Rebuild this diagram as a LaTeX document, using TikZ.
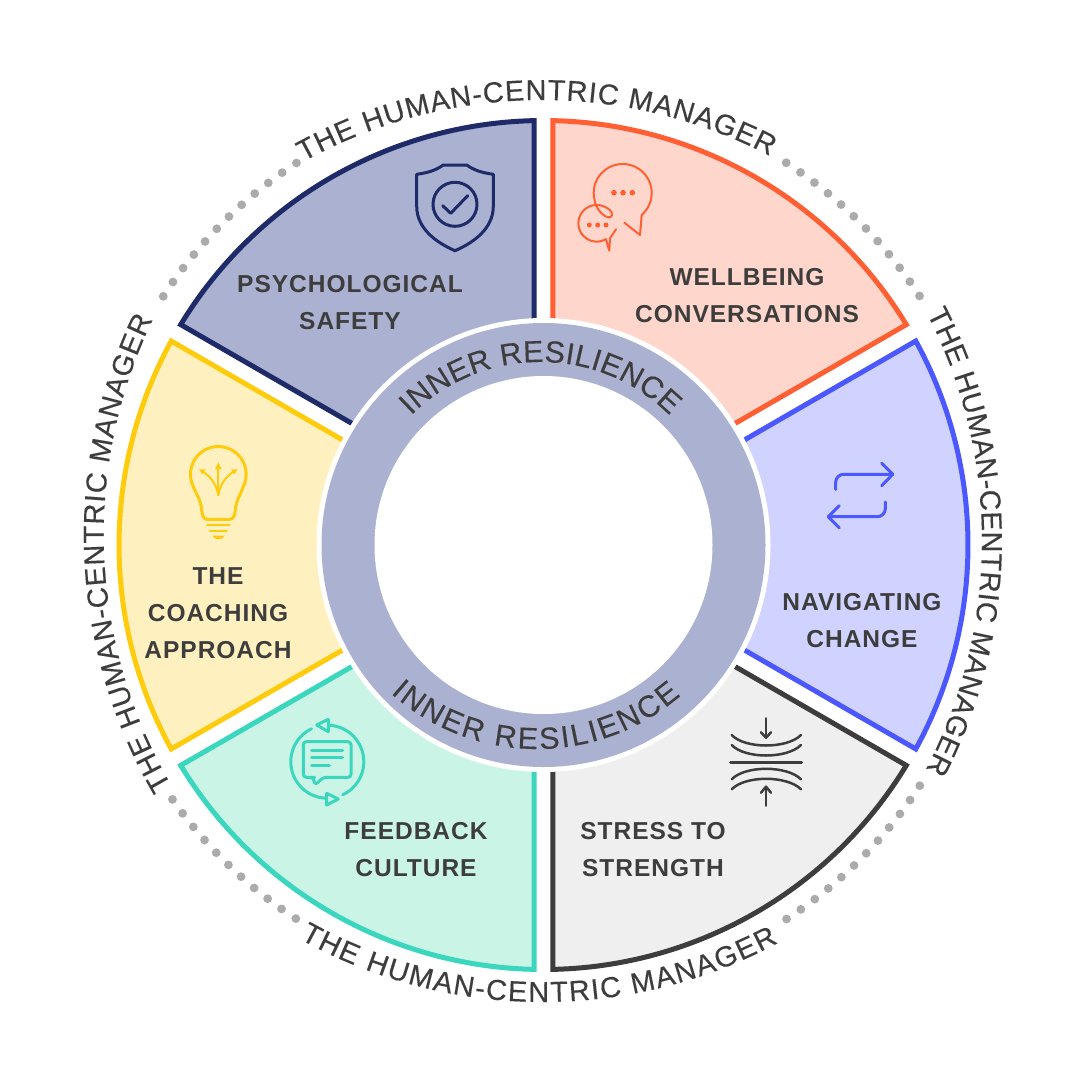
\documentclass[tikz,border=0pt]{standalone}
\usepackage{fontspec}
\setmainfont{Liberation Sans}
\newfontfamily\labelfont[LetterSpace=4]{Liberation Sans}
\newfontfamily\curvefamily[FakeBold=0.25]{Liberation Sans}
\usetikzlibrary{decorations.text}
\definecolor{ink}{HTML}{3D3D3D}
\definecolor{navy}{HTML}{1F2A68}
\definecolor{navyfill}{HTML}{AAB1D1}
\definecolor{orangeline}{HTML}{FF5F33}
\definecolor{orangefill}{HTML}{FFD6CB}
\definecolor{blueline}{HTML}{4B57FF}
\definecolor{bluefill}{HTML}{D0D3FF}
\definecolor{greyfill}{HTML}{EFEFEF}
\definecolor{tealline}{HTML}{3AD6BE}
\definecolor{tealfill}{HTML}{CAF5E6}
\definecolor{yellowline}{HTML}{FFCB0D}
\definecolor{yellowfill}{HTML}{FFF1BF}
\definecolor{dotgrey}{HTML}{ABABAB}
\newcommand\curvedfont{\curvefamily\color{ink}\fontsize{29}{29}\selectfont}
\newcommand\innerfont{\curvefamily\color{ink}\fontsize{30.5}{30.5}\selectfont}
\newcommand\drawsector[3]{%
  \path[sectorbox={#2}{#3}] (#1:19bp) -- ({#1+28.72}:424.5bp)
    arc[start angle={#1+28.72},end angle={#1-28.72},radius=424.5bp] -- cycle;}
\tikzset{
  sectorbox/.style 2 args={draw=#1,fill=#2,line width=5bp,line join=miter,miter limit=3},
  sectorlabel/.style={text=ink,align=center,font=\labelfont\bfseries\fontsize{24.6}{37.1}\selectfont,inner sep=0pt},
  icon/.style={line width=#1,line cap=round,line join=round},
  icon/.default=3bp
}
\begin{document}
\begin{tikzpicture}[x=1bp,y=-1bp]
\useasboundingbox (0,0) rectangle (1080,1080);
\fill[white] (0,0) rectangle (1080,1080);

% sectors and central ring
\begin{scope}[shift={(543.5,545)},y=1bp]
  \drawsector{120}{navy}{navyfill}
  \drawsector{60}{orangeline}{orangefill}
  \drawsector{0}{blueline}{bluefill}
  \drawsector{-60}{ink}{greyfill}
  \drawsector{-120}{tealline}{tealfill}
  \drawsector{180}{yellowline}{yellowfill}
  \fill[white] (0,0) circle[radius=227bp];
  \fill[navyfill] (0,0) circle[radius=222bp];
  \fill[white] (0,0) circle[radius=169bp];
\end{scope}

% dotted outer circle
\begin{scope}[shift={(541.5,541)},y=1bp]
  \foreach \a in {0,...,11}{
    \fill[dotgrey] ({147.1-\a*2.195}:450.5bp) circle[radius=4.4bp];
    \fill[dotgrey] ({57.1-\a*2.195}:450.5bp) circle[radius=4.4bp];
    \fill[dotgrey] ({-32.9-\a*2.195}:450.5bp) circle[radius=4.4bp];
  }
  \foreach \a in {0,...,10}{
    \fill[dotgrey] ({215+\a*2.195}:450.5bp) circle[radius=4.4bp];
  }
\end{scope}

% curved outer text
\begin{scope}[shift={(542,592)},y=1bp]
  \path[decorate,decoration={text along path,text align={fit to path},text={|\curvedfont|THE HUMAN-CENTRIC MANAGER}}]
    (119:492bp) arc[start angle=119,end angle=62.4,radius=492bp];
\end{scope}
\begin{scope}[shift={(542.5,503)},y=1bp]
  \path[decorate,decoration={text along path,text align={fit to path},text={|\curvedfont|THE HUMAN-CENTRIC MANAGER}}]
    (240.9:499bp) arc[start angle=240.9,end angle=298.2,radius=499bp];
\end{scope}
\begin{scope}[shift={(600.7,535)},y=1bp]
  \path[decorate,decoration={text along path,text align={fit to path},text={|\curvedfont|THE HUMAN-CENTRIC MANAGER}}]
    (210.3:497bp) arc[start angle=210.3,end angle=154.3,radius=497bp];
\end{scope}
\begin{scope}[shift={(487,540.5)},y=1bp]
  \path[decorate,decoration={text along path,text align={fit to path},text={|\curvedfont|THE HUMAN-CENTRIC MANAGER}}]
    (27.3:495bp) arc[start angle=27.3,end angle=-27.6,radius=495bp];
\end{scope}

% curved inner text
\begin{scope}[shift={(540.5,545)},y=1bp]
  \path[decorate,decoration={text along path,text align={fit to path},text={|\innerfont|INNER RESILIENCE}}]
    (135:183bp) arc[start angle=135,end angle=45,radius=183bp];
\end{scope}
\begin{scope}[shift={(537,529)},y=1bp]
  \path[decorate,decoration={text along path,text align={fit to path},text={|\innerfont|INNER RESILIENCE}}]
    (228.3:220bp) arc[start angle=228.3,end angle=310.8,radius=220bp];
\end{scope}

% labels
\node[sectorlabel] (psych) at (350,303) {PSYCHOLOGICAL\\SAFETY};
\node[sectorlabel] (well) at (747,296) {WELLBEING\\CONVERSATIONS};
\node[sectorlabel] (nav) at (862,621) {NAVIGATING\\CHANGE};
\node[sectorlabel] (stress) at (653,850) {STRESS TO\\STRENGTH};
\node[sectorlabel] (feed) at (416,850) {FEEDBACK\\CULTURE};
\node[sectorlabel] (coach) at (218,613) {THE\\COACHING\\APPROACH};

% shield icon
\draw[icon,navy] (443.3,165) -- (466.7,165) .. controls (475,171) and (484,173) .. (493.3,174.3)
  -- (493.3,206.7) .. controls (493,228) and (475,242) .. (455,250.7)
  .. controls (435,242) and (417,228) .. (416.7,206.7) -- (416.7,174.3)
  .. controls (426,173) and (435,171) .. cycle;
\draw[icon,navy] (455,204.3) circle[radius=22bp];
\draw[icon,navy] (442.7,205.7) -- (450.7,213.3) -- (467.7,195.7);

% speech bubbles icon
\draw[icon=2bp,orangeline] (624.3,222.7) -- (640,235) -- (641.7,215)
  -- plot[domain=-48.8:195,samples=50] ({622.7+29*cos(\x)},{193-29*sin(\x)})
  .. controls (596,209) and (604,218) .. (610,217.3)
  .. controls (614,216.5) and (613,209) .. (601.7,205.7)
  -- plot[domain=75:300,samples=40] ({596.7+18.3*cos(\x)},{223.3-18.3*sin(\x)})
  -- (609.3,250.7) -- (610,238.3) -- (616,229.3);
\foreach \p in {(614,192.7),(623,192.7),(632.3,192.7)} \fill[orangeline] \p circle[radius=2.8bp];
\foreach \p in {(589.3,225),(597.7,225),(606,225)} \fill[orangeline] \p circle[radius=2.5bp];

% change arrows icon
\draw[icon,blueline,rounded corners=8bp] (835.7,489.3) -- (835.7,474.3) -- (892.7,474.3);
\draw[icon,blueline] (881.7,463.3) -- (892.7,474.3) -- (881.7,485.7);
\draw[icon,blueline,rounded corners=8bp] (885.3,502) -- (885.3,516.7) -- (828.3,516.7);
\draw[icon,blueline] (839.3,505.7) -- (828.3,516.7) -- (839.3,527.7);

% stress icon
\begin{scope}[icon=2.5bp,ink]
  \draw (731.7,735) .. controls (745,749) and (787,749) .. (801,735);
  \draw (731.7,745) .. controls (745,759) and (787,759) .. (801,745);
  \draw[line width=3bp] (730.7,762.3) -- (801.7,762.3);
  \draw (731.7,779.3) .. controls (745,765.3) and (787,765.3) .. (801,779.3);
  \draw (731.7,789.3) .. controls (745,775.3) and (787,775.3) .. (801,789.3);
  \draw (766,718.3) -- (766,737.7);
  \draw (761,732.3) -- (766,737.7) -- (771,732.3);
  \draw (766,805.7) -- (766,786.7);
  \draw (761,792.7) -- (766,786.7) -- (771,792.7);
\end{scope}

% feedback icon
\begin{scope}[icon=3bp,tealline]
  \draw plot[domain=88:-65,samples=50] ({327.3+36.5*cos(\x)},{761.7-36.5*sin(\x)});
  \draw plot[domain=115.6:268,samples=50] ({327.3+36.5*cos(\x)},{761.7-36.5*sin(\x)});
  \draw (328.3,719.3) -- (316.7,725) -- (328.3,731.7) -- cycle;
  \draw (326.7,793.3) -- (338.3,799) -- (326.7,805) -- cycle;
  \draw[rounded corners=3bp] (311.7,777.3) -- (303.3,777.3) -- (303.3,741.7) -- (351,741.7) -- (351,777.3) -- (323.3,777.3) -- (315,785) -- (313,777.3) -- cycle;
  \draw (311.7,750) -- (342.7,750);
  \draw (311.7,757.3) -- (342.7,757.3);
  \draw (311.7,765) -- (329.3,765);
\end{scope}

% light bulb icon
\draw[icon,yellowline] (206.7,519.3) -- (230,519.3) .. controls (234,519) and (235,514) .. (235.3,510)
  .. controls (236,500) and (241,494) .. (243.5,486)
  -- plot[domain=-25:205,samples=50] ({218.3+27.8*cos(\x)},{474.3-27.8*sin(\x)})
  .. controls (196,494) and (201,500) .. (201.7,510)
  .. controls (202,514) and (203,519) .. (206.7,519.3);
\begin{scope}[icon=2.8bp,yellowline]
  \draw (207.3,525) -- (229.3,525);
  \draw (210,531) -- (226.7,531);
  \fill (212.2,535.5) -- (224.8,535.5) .. controls (223,540.5) and (214,540.5) .. cycle;
\end{scope}
\begin{scope}[icon=2bp,yellowline]
  \draw (218.3,495) -- (218.3,466);
  \draw (218.3,495) .. controls (216,483) and (210,476) .. (202,471);
  \draw (218.3,495) .. controls (220.6,483) and (226.6,476) .. (234.6,471);
  \fill (218.3,462.3) -- (215,469.3) -- (221.7,469.3) -- cycle;
  \fill (199,469.3) -- (205.7,469.3) -- (202.3,474.3) -- cycle;
  \fill (237.7,469.3) -- (231,469.3) -- (234.3,474.3) -- cycle;
\end{scope}
\end{tikzpicture}
\end{document}
